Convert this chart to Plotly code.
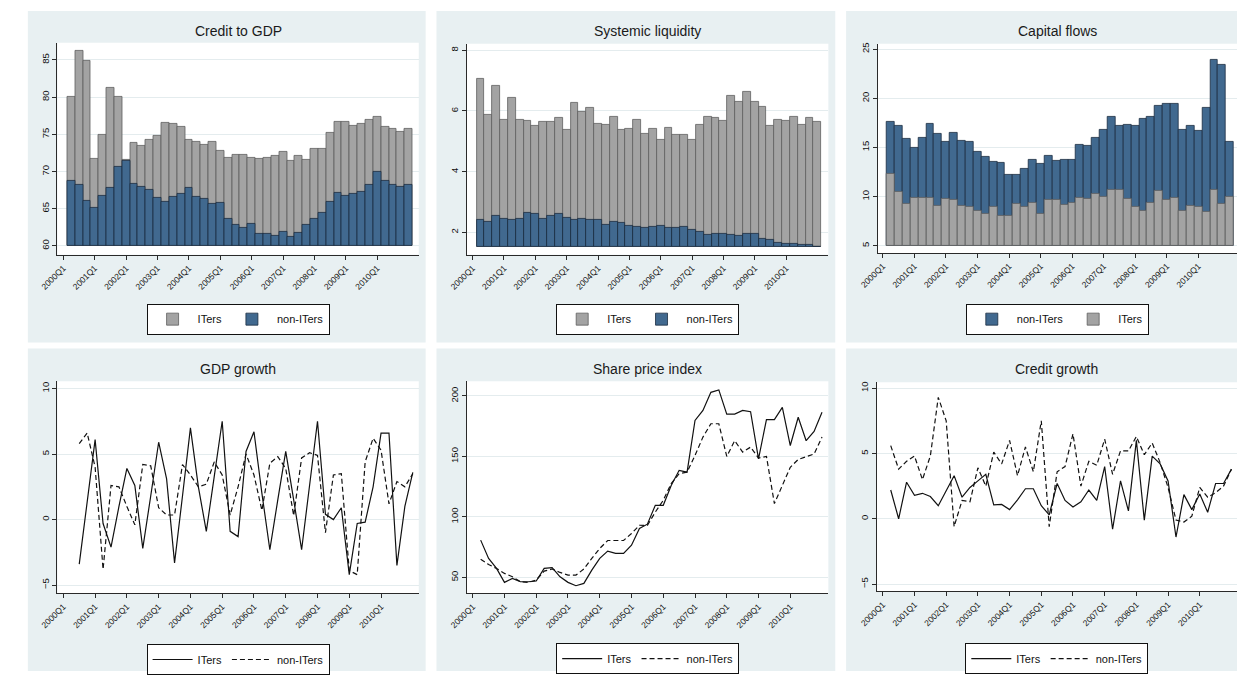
import plotly.graph_objects as go

W, H = 1237, 675

# ---------------- data ----------------
tick_labels = ["2000Q1", "2001Q1", "2002Q1", "2003Q1", "2004Q1", "2005Q1",
               "2006Q1", "2007Q1", "2008Q1", "2009Q1", "2010Q1"]
tick_pos = [0, 4, 8, 12, 16, 20, 24, 28, 32, 36, 40]
qtr = list(range(1, 45))          # quarter index (2000Q1 = 0)

credit_gdp_iters = [80.0, 86.2, 84.9, 71.7, 75.0, 81.2, 80.1, 71.6, 73.8, 73.5,
                    74.3, 74.8, 76.5, 76.4, 76.0, 74.3, 74.0, 73.6, 74.0, 72.8,
                    71.9, 72.3, 72.3, 71.9, 71.7, 71.9, 72.1, 72.6, 71.4, 72.1,
                    71.6, 73.1, 73.1, 75.2, 76.7, 76.7, 76.2, 76.4, 76.9, 77.4,
                    76.0, 75.7, 75.4, 75.7]
credit_gdp_noniters = [68.7, 68.2, 66.1, 65.1, 66.8, 67.8, 70.6, 71.4, 68.3, 68.0,
                       67.5, 66.5, 65.9, 66.6, 67.0, 67.8, 66.6, 66.4, 65.6, 65.8,
                       63.7, 62.8, 62.4, 63.0, 61.6, 61.6, 61.4, 61.9, 61.2, 61.7,
                       62.8, 63.6, 64.5, 65.9, 67.2, 66.7, 67.0, 67.3, 68.2, 69.9,
                       68.7, 68.2, 68.0, 68.2]

liquidity_iters = [7.05, 5.87, 6.83, 5.72, 6.43, 5.72, 5.66, 5.50, 5.63, 5.63,
                   5.76, 5.38, 6.26, 5.96, 6.10, 5.57, 5.54, 5.80, 5.38, 5.42,
                   5.72, 5.25, 5.42, 5.05, 5.46, 5.20, 5.20, 5.05, 5.54, 5.80,
                   5.76, 5.67, 6.50, 6.30, 6.64, 6.30, 6.12, 5.50, 5.72, 5.67,
                   5.79, 5.54, 5.76, 5.63]
liquidity_noniters = [2.40, 2.36, 2.56, 2.44, 2.40, 2.44, 2.66, 2.61, 2.44, 2.56,
                      2.61, 2.48, 2.40, 2.44, 2.40, 2.40, 2.26, 2.36, 2.32, 2.23,
                      2.20, 2.14, 2.20, 2.23, 2.14, 2.14, 2.19, 2.08, 2.02, 1.93,
                      1.97, 1.97, 1.93, 1.88, 1.97, 1.97, 1.79, 1.75, 1.66, 1.63,
                      1.63, 1.58, 1.58, 1.54]

capflows_noniters = [17.6, 17.2, 15.9, 15.0, 16.0, 17.4, 16.4, 15.6, 16.5, 15.7,
                     15.6, 14.6, 14.05, 13.5, 13.4, 12.2, 12.2, 12.8, 13.8, 13.3,
                     14.2, 13.6, 13.8, 13.8, 15.3, 15.2, 16.0, 16.8, 18.1, 17.2,
                     17.3, 17.2, 17.9, 18.1, 19.2, 19.4, 19.4, 16.8, 17.2, 16.7,
                     19.0, 23.9, 23.4, 15.6]
capflows_iters = [12.3, 10.5, 9.3, 9.9, 9.9, 9.9, 9.1, 9.8, 9.7, 9.1,
                  9.0, 8.6, 8.3, 9.0, 8.05, 8.05, 9.25, 9.0, 9.4, 8.3,
                  9.7, 9.65, 9.2, 9.4, 9.9, 9.8, 10.3, 10.0, 10.7, 10.7,
                  9.8, 9.0, 8.6, 9.4, 10.6, 9.7, 9.9, 8.6, 9.05, 9.0,
                  8.5, 10.7, 9.25, 10.0]

gdp_qtr = qtr[1:]   # growth series start one quarter later
gdp_iters = [-3.4, 1.4, 6.1, -0.3, -2.1, 1.0, 3.9, 2.6, -2.2, 1.8,
             5.9, 3.1, -3.3, 1.8, 7.0, 2.5, -0.9, 3.3, 7.5, -0.9,
             -1.3, 5.2, 6.7, 2.0, -2.3, 1.5, 5.2, 1.5, -2.3, 2.6,
             7.5, 0.4, 0.0, 0.9, -4.2, -0.3, -0.2, 2.5, 6.6, 6.6,
             -3.5, 1.0, 3.6]
gdp_noniters = [5.8, 6.6, 4.0, -3.8, 2.6, 2.5, 1.0, -0.4, 4.2, 4.1,
                0.9, 0.35, 0.35, 4.2, 3.4, 2.5, 2.7, 4.4, 3.4, 0.35,
                2.5, 5.0, 3.4, 0.7, 4.3, 4.8, 3.9, 0.3, 4.7, 5.1,
                4.9, -1.0, 3.4, 3.5, -3.9, -4.2, 4.4, 6.2, 5.3, 1.2,
                2.9, 2.5, 3.5]

share_iters = [80.8, 65.7, 57.4, 45.9, 49.2, 46.4, 46.4, 47.0, 57.4, 58.0,
               50.5, 45.9, 43.1, 45.0, 56.0, 65.7, 71.7, 69.8, 69.8, 76.6,
               90.4, 94.0, 109.6, 109.6, 126.0, 138.5, 137.0, 179.7, 188.0, 203.0,
               205.0, 185.0, 185.0, 188.0, 187.0, 148.0, 180.5, 180.5, 190.6, 159.0,
               182.4, 163.0, 170.6, 186.5]
share_noniters = [65.0, 60.7, 57.4, 53.3, 50.5, 46.4, 45.9, 47.8, 55.2, 56.9,
                  54.1, 51.9, 51.9, 56.9, 65.7, 73.9, 80.5, 80.5, 80.5, 86.3,
                  93.1, 93.0, 104.0, 113.7, 127.5, 135.7, 137.0, 150.8, 166.0, 177.0,
                  177.0, 150.0, 163.0, 153.6, 157.7, 148.6, 150.0, 111.0, 126.0, 141.0,
                  147.5, 149.5, 152.0, 166.0]

cg_iters = [2.2, 0.0, 2.8, 1.8, 1.95, 1.7, 1.0, 2.1, 3.3, 1.65,
            2.4, 2.9, 3.4, 1.07, 1.1, 0.7, 1.45, 2.3, 2.3, 1.0,
            0.3, 2.7, 1.4, 0.9, 1.3, 2.2, 1.4, 4.0, -0.8, 2.9,
            0.6, 6.0, -0.1, 4.8, 4.2, 2.9, -1.4, 1.85, 0.7, 1.9,
            0.5, 2.7, 2.7, 3.8]
cg_noniters = [5.6, 3.8, 4.4, 4.8, 3.0, 4.8, 9.3, 7.5, -0.6, 1.4,
               1.3, 3.9, 2.5, 5.1, 4.2, 6.0, 3.3, 5.5, 3.6, 7.5,
               -0.6, 3.6, 4.0, 6.5, 2.5, 4.4, 4.1, 6.1, 3.4, 5.2,
               5.2, 6.3, 4.9, 5.8, 4.3, 2.4, -0.1, -0.25, 0.2, 2.4,
               1.65, 2.0, 2.5, 3.8]

titles = ["Credit to GDP", "Systemic liquidity", "Capital flows",
          "GDP growth", "Share price index", "Credit growth"]

# ---------------- styling ----------------
FONT = "Arial, 'Liberation Sans', sans-serif"
PANEL_BG = "#e8f0f2"
GRID = "#e4ecee"
AXC = "#2a2a2a"
GRAY_FILL, GRAY_LINE = "#a3a3a3", "#5e5e5e"
BLUE_FILL, BLUE_LINE = "#41698f", "#1b2c40"

# geometry in pixels: plot area (x0, x1, y0, y1), panel bg, x range, y range, yticks
panels = [
    dict(plot=(39, 406, 42, 255), bg=(9, 413, 10, 343), xr=(-0.75, 45.3), yr=(58.8, 87.3),
         yt=[60, 65, 70, 75, 80, 85], title_y=30, leg_y=304),
    dict(plot=(455, 822, 43, 255), bg=(424, 829, 10, 343), xr=(-0.72, 45.4), yr=(1.26, 8.21),
         yt=[2, 4, 6, 8], title_y=30, leg_y=304),
    dict(plot=(872, 1237, 43, 253), bg=(840, 1237, 10, 343), xr=(-0.66, 44.9), yr=(4.29, 25.54),
         yt=[5, 10, 15, 20, 25], title_y=30, leg_y=304),
    dict(plot=(39, 406, 382, 595), bg=(9, 413, 349, 673), xr=(-0.75, 44.75), yr=(-5.63, 10.55),
         yt=[-5, 0, 5, 10], title_y=370, leg_y=646),
    dict(plot=(455, 822, 382, 595), bg=(424, 829, 349, 673), xr=(-0.72, 44.8), yr=(36.8, 212.1),
         yt=[50, 100, 150, 200], title_y=370, leg_y=645),
    dict(plot=(871, 1237, 383, 593), bg=(840, 1237, 349, 673), xr=(-0.78, 44.7), yr=(-5.56, 10.45),
         yt=[-5, 0, 5, 10], title_y=370, leg_y=645),
]
bar_base = [60, 1.53, 5]

fig = go.Figure()

def bar(x, vals, base, name, fill, line, i):
    return go.Bar(x=x, y=[v - base for v in vals], base=base, name=name, width=1.0,
                  marker=dict(color=fill, line=dict(color=line, width=0.8)),
                  xaxis=f"x{i+1}", yaxis=f"y{i+1}", legend=f"legend{'' if i == 0 else i+1}",
                  showlegend=True)

def line(x, vals, name, dash, i):
    return go.Scatter(x=x, y=vals, name=name, mode="lines",
                      line=dict(color="#111111", width=1.2, dash=dash),
                      xaxis=f"x{i+1}", yaxis=f"y{i+1}", legend=f"legend{'' if i == 0 else i+1}")

fig.add_trace(bar(qtr, credit_gdp_iters, bar_base[0], "ITers", GRAY_FILL, GRAY_LINE, 0))
fig.add_trace(bar(qtr, credit_gdp_noniters, bar_base[0], "non-ITers", BLUE_FILL, BLUE_LINE, 0))
fig.add_trace(bar(qtr, liquidity_iters, bar_base[1], "ITers", GRAY_FILL, GRAY_LINE, 1))
fig.add_trace(bar(qtr, liquidity_noniters, bar_base[1], "non-ITers", BLUE_FILL, BLUE_LINE, 1))
fig.add_trace(bar(qtr, capflows_noniters, bar_base[2], "non-ITers", BLUE_FILL, BLUE_LINE, 2))
fig.add_trace(bar(qtr, capflows_iters, bar_base[2], "ITers", GRAY_FILL, GRAY_LINE, 2))
fig.add_trace(line(gdp_qtr, gdp_iters, "ITers", "solid", 3))
fig.add_trace(line(gdp_qtr, gdp_noniters, "non-ITers", "5px,3px", 3))
fig.add_trace(line(qtr, share_iters, "ITers", "solid", 4))
fig.add_trace(line(qtr, share_noniters, "non-ITers", "5px,3px", 4))
fig.add_trace(line(qtr, cg_iters, "ITers", "solid", 5))
fig.add_trace(line(qtr, cg_noniters, "non-ITers", "5px,3px", 5))

shapes, annotations, layout = [], [], {}
for i, p in enumerate(panels):
    x0, x1, y0, y1 = p["plot"]
    bx0, bx1, by0, by1 = p["bg"]
    shapes.append(dict(type="rect", xref="paper", yref="paper", layer="below",
                       x0=bx0 / W, x1=bx1 / W, y0=1 - by1 / H, y1=1 - by0 / H,
                       fillcolor=PANEL_BG, line=dict(width=0)))
    shapes.append(dict(type="rect", xref="paper", yref="paper", layer="below",
                       x0=x0 / W, x1=x1 / W, y0=1 - y1 / H, y1=1 - y0 / H,
                       fillcolor="white", line=dict(width=0)))
    cx = (x0 + x1) / 2 / W
    annotations.append(dict(text=titles[i], xref="paper", yref="paper", x=cx,
                            y=1 - p["title_y"] / H, xanchor="center", yanchor="middle",
                            showarrow=False, font=dict(size=14, color="#1a1a1a", family=FONT)))
    sfx = "" if i == 0 else str(i + 1)
    layout[f"xaxis{sfx}"] = dict(
        domain=[x0 / W, x1 / W], range=list(p["xr"]), anchor=f"y{sfx}",
        tickmode="array", tickvals=tick_pos, ticktext=tick_labels, tickangle=-45,
        ticks="outside", ticklen=4, tickcolor=AXC, tickwidth=1,
        showline=True, linecolor=AXC, linewidth=1, showgrid=False, zeroline=False,
        tickfont=dict(size=8.5, color="#111111", family=FONT), fixedrange=True)
    layout[f"yaxis{sfx}"] = dict(
        domain=[1 - y1 / H, 1 - y0 / H], range=list(p["yr"]), anchor=f"x{sfx}",
        tickmode="array", tickvals=p["yt"], tickangle=-90,
        ticks="outside", ticklen=4, tickcolor=AXC, tickwidth=1,
        showline=True, linecolor=AXC, linewidth=1, showgrid=True, gridcolor=GRID,
        gridwidth=1, zeroline=False,
        tickfont=dict(size=9.5, color="#111111", family=FONT), fixedrange=True)
    layout[f"legend{sfx}"] = dict(
        x=cx, y=1 - p["leg_y"] / H, xanchor="center", yanchor="top",
        orientation="h", bgcolor="white", bordercolor="#111111", borderwidth=1,
        font=dict(size=11, color="#111111", family=FONT), itemwidth=40,
        tracegroupgap=0, itemclick=False, itemdoubleclick=False)

fig.update_layout(
    width=W, height=H, autosize=False,
    margin=dict(l=0, r=0, t=0, b=0, pad=0),
    paper_bgcolor="white", plot_bgcolor="rgba(0,0,0,0)",
    barmode="overlay", bargap=0,
    font=dict(family=FONT, color="#111111"),
    shapes=shapes, annotations=annotations,
    showlegend=True,
    **layout,
)

fig.write_html("out.html", post_script="document.body.style.margin='0';",
               config={"displayModeBar": False})
